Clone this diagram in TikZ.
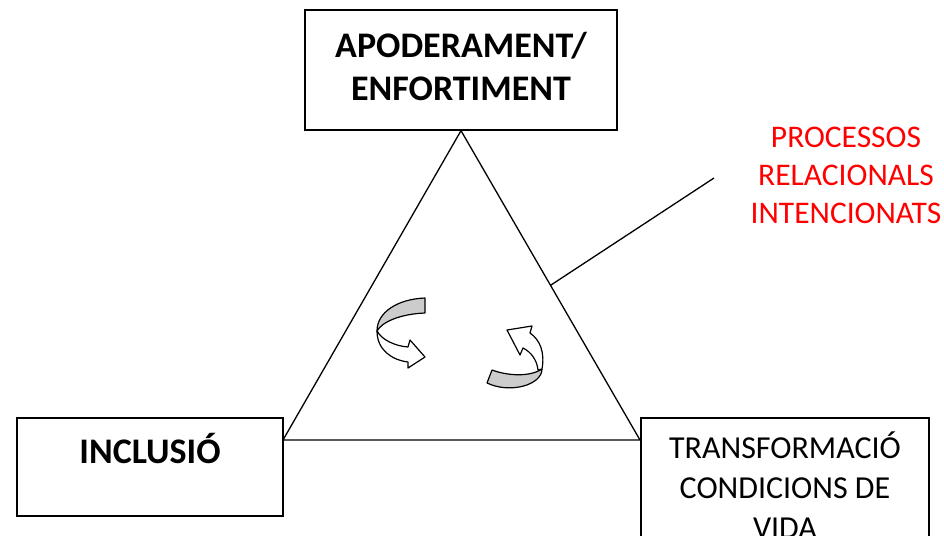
\documentclass[tikz,border=0pt]{standalone}
\usepackage{fontspec}
\setmainfont{Carlito}
\usetikzlibrary{calc}
\tikzset{
	box/.style={rectangle, draw=black, line width=1.3pt, align=center, inner sep=0pt},
	band/.style={fill=gray!40, draw=black, line width=1.2pt, line join=round},
	flap/.style={fill=white, draw=black, line width=1.2pt, line join=round}
}
\begin{document}
\begin{tikzpicture}[x=1pt, y=-1pt]
	\useasboundingbox (0,0) rectangle (944,535);
	\clip (0,0) rectangle (944,535);
	\node[box, minimum width=312pt, minimum height=120pt, font=\fontsize{36}{43}\selectfont\bfseries](apo) at (461,70){APODERAMENT/\\ENFORTIMENT\\[-35pt]\mbox{}};
	\node[box, minimum width=266pt, minimum height=98pt, font=\fontsize{36}{38}\selectfont\bfseries](incl) at (150,467){INCLUSIÓ\\\mbox{}};
	\node[box, minimum width=288pt, minimum height=134pt, font=\fontsize{32}{40}\selectfont](trans) at (785,485){TRANSFORMACIÓ\\CONDICIONS DE\\VIDA};
	\node[align=center, text=red, font=\fontsize{31.5}{38}\selectfont](proc) at (846,175){PROCESSOS\\RELACIONALS\\INTENCIONATS};
	% triangle between the three boxes
	\coordinate (bl) at (283,440);
	\coordinate (br) at (640,440);
	\draw[line width=1.3pt, line join=miter] (apo.south) -- (bl) -- (br) -- cycle;
	\coordinate (p) at ($(apo.south)!0.5!(br)$);
	\coordinate (q) at (714,178);
	\draw[line width=1.3pt] (p) -- (q);
	% turning arrows
	\filldraw[band] (425,298) .. controls (398,299) and (377,312) .. (377,331) .. controls (382,322) and (400,314) .. (425,313) -- cycle;
	\filldraw[flap] (377,331) .. controls (377,350) and (392,360) .. (408,362) -- (408,368) -- (425,357) -- (410,340) -- (408,347) .. controls (395,346) and (382,340) .. (377,331) -- cycle;
	\filldraw[band] (492,370) .. controls (508,376) and (530,377) .. (542,369) .. controls (542,385) and (510,394) .. (487,383) -- cycle;
	\filldraw[flap] (542,369) .. controls (545,352) and (540,340) .. (530,333) -- (532,326) -- (507,330) -- (520,355) -- (523,348) .. controls (531,352) and (537,360) .. (538,370) -- cycle;
\end{tikzpicture}
\end{document}
